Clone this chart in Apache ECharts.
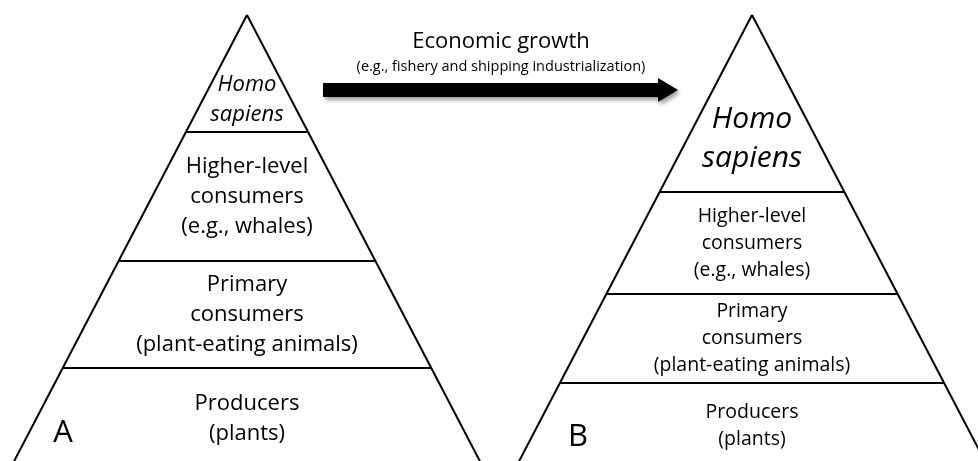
<!DOCTYPE html>
<html>
<head>
<meta charset="utf-8">
<script src="https://cdn.jsdelivr.net/npm/echarts@6.0.0/dist/echarts.min.js"></script>
<style>
  html, body { margin: 0; padding: 0; background: #fff; }
  #chart { width: 978px; height: 461px; }
</style>
</head>
<body>
<div id="chart"></div>
<script>
// trophic levels, top to bottom
const tierLabels = [
    'Homo\nsapiens',
    'Higher-level\nconsumers\n(e.g., whales)',
    'Primary\nconsumers\n(plant-eating animals)',
    'Producers\n(plants)'
];
const panelNames = ['A', 'B'];
// pyramid geometry in diagram units (same as the pixel grid)
const apexX = [247, 752];
const apexY = 15;
const baseY = 470;
const halfWidthPerUnit = 0.522;
// where each tier ends (y), before (A) and after (B) economic growth
const tierBounds = [
    [132, 261, 368],
    [192, 294, 383]
];
const arrowFrom = [323, 90];
const arrowTo = [678, 90];

const chartDom = document.getElementById('chart');
const myChart = echarts.init(chartDom);

const fonts = [
    { size: 22, lh: 30, topSize: 22, topLh: 30, topFrac: 0.72, letterX: 63, letterY: 433 },
    { size: 19.5, lh: 27, topSize: 30, topLh: 39, topFrac: 0.7, letterX: 578, letterY: 437 }
];
const FONT = '"Open Sans", sans-serif';
const visibleBottom = 461;

// one item per tier: [pyramid, tier]
const tierItems = [];
panelNames.forEach(function (n, p) {
    tierLabels.forEach(function (l, t) { tierItems.push([p, t]); });
});

function edgeX(p, y, side) {
    return apexX[p] + side * (y - apexY) * halfWidthPerUnit;
}

function renderTier(params, api) {
    const p = api.value(0);
    const t = api.value(1);
    const bounds = [apexY].concat(tierBounds[p]).concat([baseY]);
    const yTop = bounds[t];
    const yBot = bounds[t + 1];
    const f = fonts[p];
    const children = [];
    const lineStyle = { stroke: '#000', lineWidth: 2, fill: null };

    // sides of the pyramid for this tier
    [-1, 1].forEach(function (side) {
        const a = api.coord([edgeX(p, yTop, side), yTop]);
        const b = api.coord([edgeX(p, yBot, side), yBot]);
        children.push({ type: 'line', shape: { x1: a[0], y1: a[1], x2: b[0], y2: b[1] }, style: lineStyle });
    });
    // top line of the tier
    if (t > 0) {
        const a = api.coord([edgeX(p, yTop, -1), yTop]);
        const b = api.coord([edgeX(p, yTop, 1), yTop]);
        children.push({ type: 'line', shape: { x1: a[0], y1: a[1], x2: b[0], y2: b[1] }, style: lineStyle });
    }

    // label position inside the tier
    let frac = 0.5;
    let lower = yBot;
    if (t === 0) frac = f.topFrac;
    if (t === tierLabels.length - 1) { lower = visibleBottom; frac = 0.55; }
    const cy = yTop + (lower - yTop) * frac;
    const c = api.coord([apexX[p], cy]);
    children.push({
        type: 'text',
        x: c[0], y: c[1],
        style: {
            text: tierLabels[t],
            fontFamily: FONT,
            fontSize: t === 0 ? f.topSize : f.size,
            fontStyle: t === 0 ? 'italic' : 'normal',
            lineHeight: t === 0 ? f.topLh : f.lh,
            fill: '#000',
            align: 'center',
            verticalAlign: 'middle'
        }
    });

    // panel letter
    if (t === tierLabels.length - 1) {
        const lp = api.coord([f.letterX, f.letterY]);
        children.push({
            type: 'text', x: lp[0], y: lp[1],
            style: { text: panelNames[p], fontFamily: FONT, fontSize: 31, fill: '#000', align: 'center', verticalAlign: 'middle' }
        });
    }
    return { type: 'group', children: children };
}

function renderArrow(params, api) {
    const a = api.coord([api.value(0), api.value(1)]);
    const b = api.coord([api.value(2), api.value(3)]);
    const shaft = 7, head = 12, headLen = 20;
    const pts = [
        [a[0], a[1] - shaft], [b[0] - headLen, b[1] - shaft], [b[0] - headLen, b[1] - head],
        [b[0], b[1]],
        [b[0] - headLen, b[1] + head], [b[0] - headLen, b[1] + shaft], [a[0], a[1] + shaft]
    ];
    return {
        type: 'polygon',
        shape: { points: pts },
        style: {
            fill: '#000',
            shadowColor: 'rgba(0,0,0,0.4)',
            shadowBlur: 4,
            shadowOffsetX: 2,
            shadowOffsetY: 3
        }
    };
}

const option = {
    backgroundColor: '#fff',
    animation: false,
    title: {
        text: 'Economic growth',
        subtext: '(e.g., fishery and shipping industrialization)',
        left: 496,
        top: 26,
        textAlign: 'center',
        itemGap: 6,
        textStyle: { fontFamily: FONT, fontSize: 22, fontWeight: 'normal', color: '#000' },
        subtextStyle: { fontFamily: FONT, fontSize: 14.5, color: '#000' }
    },
    grid: { left: 0, right: 0, top: 0, bottom: 0 },
    xAxis: { type: 'value', min: 0, max: 978, show: false },
    yAxis: { type: 'value', min: 0, max: 461, inverse: true, show: false },
    series: [
        {
            name: 'Pyramids',
            type: 'custom',
            renderItem: renderTier,
            data: tierItems,
            silent: true
        },
        {
            name: 'Growth arrow',
            type: 'custom',
            renderItem: renderArrow,
            data: [[arrowFrom[0], arrowFrom[1], arrowTo[0], arrowTo[1]]],
            silent: true
        }
    ]
};

myChart.setOption(option);
</script>
</body>
</html>
